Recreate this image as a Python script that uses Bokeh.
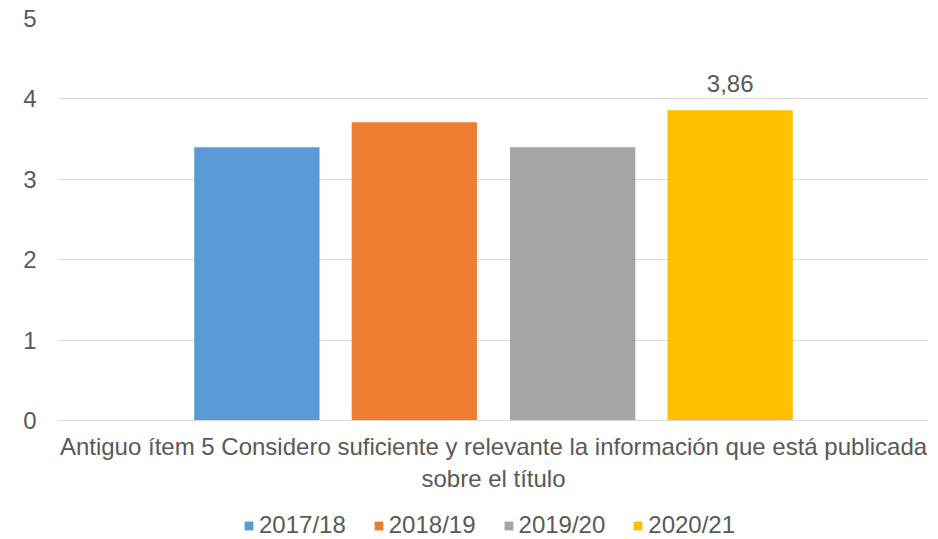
from bokeh.plotting import figure
from bokeh.layouts import column
from bokeh.models import ColumnDataSource, Legend, LegendItem, LabelSet, Range1d, FactorRange, SingleIntervalTicker
from bokeh.core.properties import value
from bokeh.transform import dodge
from bokeh.embed import file_html
from bokeh.resources import INLINE

category = "Antiguo ítem 5 Considero suficiente y relevante la información que está publicada\nsobre el título"
years = ["2017/18", "2018/19", "2019/20", "2020/21"]
values = [3.40, 3.71, 3.40, 3.86]
colors = ["#5B9BD5", "#ED7D31", "#A5A5A5", "#FFC000"]
show_label = [False, False, False, True]
offsets = [-0.272, -0.091, 0.091, 0.272]

FONT = "Liberation Sans"
TXT = "#595959"
GRID = "#D9D9D9"
FS = "24px"

p = figure(width=938, height=500, x_range=FactorRange(factors=[category], range_padding=0),
           y_range=Range1d(0, 5), output_backend="svg", toolbar_location=None,
           min_border_left=58, min_border_right=10, min_border_top=18, min_border_bottom=80)
p.outline_line_color = None
p.xgrid.grid_line_color = None
p.ygrid.grid_line_color = GRID
p.ygrid.grid_line_width = 1
p.yaxis.ticker = SingleIntervalTicker(interval=1)
p.yaxis.axis_line_color = None
p.yaxis.major_tick_line_color = None
p.yaxis.minor_tick_line_color = None
p.yaxis.major_tick_out = 0
p.yaxis.major_label_text_font = FONT
p.yaxis.major_label_text_font_size = FS
p.yaxis.major_label_text_color = TXT
p.yaxis.major_label_standoff = 18
p.xaxis.axis_line_color = GRID
p.xaxis.major_tick_line_color = None
p.xaxis.minor_tick_line_color = None
p.xaxis.major_tick_out = 0
p.xaxis.major_label_text_font = FONT
p.xaxis.major_label_text_font_size = FS
p.xaxis.major_label_text_color = TXT
p.xaxis.major_label_standoff = 12

# legend-only strip below the chart (its bars lie below the visible y range)
lg = figure(width=938, height=39, x_range=FactorRange(factors=[category], range_padding=0),
            y_range=Range1d(10, 11), output_backend="svg", toolbar_location=None,
            x_axis_location=None, y_axis_location=None,
            min_border_left=0, min_border_right=0, min_border_top=0, min_border_bottom=0)
lg.outline_line_color = None
lg.xgrid.grid_line_color = None
lg.ygrid.grid_line_color = None

items = []
for yr, v, c, off, lab in zip(years, values, colors, offsets, show_label):
    src = ColumnDataSource(dict(x=[category], top=[v], txt=[f"{v:.2f}".replace(".", ",")]))
    p.vbar(x=dodge("x", off, range=p.x_range), top="top", width=0.144, source=src,
           fill_color=c, line_color=None)
    r2 = lg.vbar(x=dodge("x", off, range=lg.x_range), top="top", width=0.144, source=src,
                 fill_color=c, line_color=None)
    items.append(LegendItem(label=yr, renderers=[r2]))
    if lab:
        p.add_layout(LabelSet(x=dodge("x", off, range=p.x_range), y="top", text="txt", source=src,
                              text_align="center", text_baseline="bottom", y_offset=18,
                              text_font=value(FONT), text_font_size=value(FS), text_color=TXT))

legend = Legend(items=items, orientation="horizontal", location=(185, 0),
                glyph_width=11, glyph_height=11, label_standoff=5, spacing=27,
                label_text_font=FONT, label_text_font_size=FS, label_text_color=TXT,
                border_line_color=None, background_fill_alpha=0, padding=0, margin=0)
lg.add_layout(legend, "center")

layout = column(p, lg, spacing=0)
open("out.html", "w").write(file_html(layout, INLINE))
